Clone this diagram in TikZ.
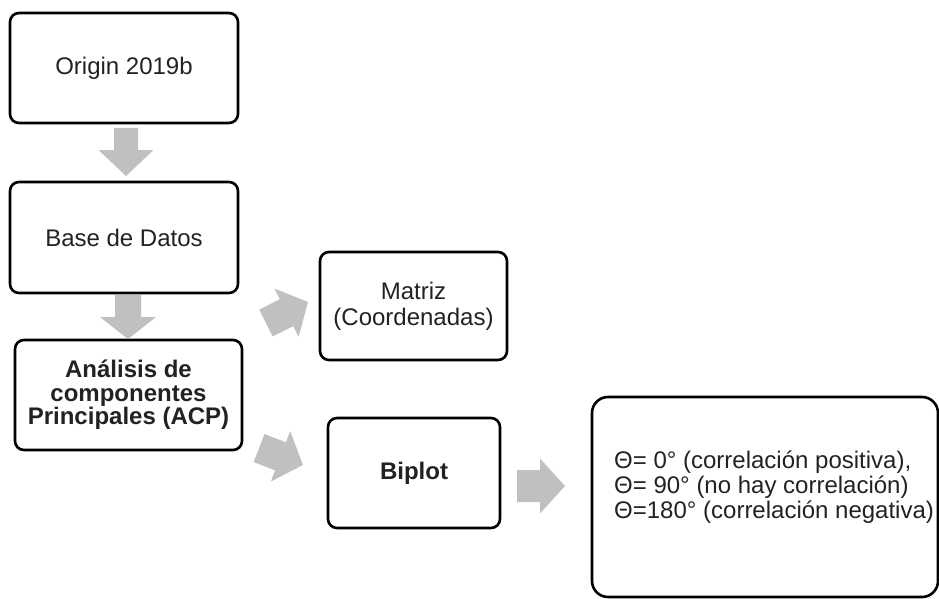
\documentclass[tikz,border=0pt]{standalone}
\usepackage{fontspec}
\setmainfont{Liberation Sans}
\begin{document}
\begin{tikzpicture}[x=1pt,y=-1pt,
  every node/.style={font=\fontsize{24}{23.5}\selectfont, text=txtgray},
  boxnode/.style={draw=black, line width=2.6pt, rounded corners=9pt, fill=white, inner sep=0pt, align=center},
  thetaline/.style={anchor=base west, inner sep=0pt, font=\fontsize{24}{25}\selectfont},
  pics/fatarrow/.style n args={4}{code={
    \fill[arrowgray] (-#1/2,-#2) -- (#1/2-#4,-#2) -- (#1/2-#4,-#3) -- (#1/2,0)
      -- (#1/2-#4,#3) -- (#1/2-#4,#2) -- (-#1/2,#2) -- cycle;}}]
\definecolor{arrowgray}{RGB}{192,192,192}
\definecolor{txtgray}{RGB}{34,34,34}
\useasboundingbox (0,0) rectangle (939,599);

% boxes
\node[boxnode, minimum width=228pt, minimum height=110pt] (origin) at (124,68) {Origin 2019b};
\node[boxnode, minimum width=228pt, minimum height=111pt] (base) at (124,237.5) {Base de Datos};
\node[boxnode, minimum width=227pt, minimum height=110pt, font=\fontsize{24}{23.5}\selectfont\bfseries] (acp) at (128.5,395)
  {Análisis de\\componentes\\Principales (ACP)};
\node[boxnode, minimum width=187pt, minimum height=108pt, font=\fontsize{24}{26}\selectfont] (matriz) at (413.5,306)
  {Matriz\\(Coordenadas)};
\node[boxnode, minimum width=172pt, minimum height=110pt, font=\fontsize{24}{23.5}\selectfont\bfseries] (biplot) at (414,473) {Biplot};
\draw[black, line width=2.6pt, rounded corners=16pt] (592,397) rectangle (938,597);
\node[thetaline] (theta1) at (614,468) {Θ= 0° (correlación positiva),};
\node[thetaline] (theta2) at (614,493) {Θ= 90° (no hay correlación)};
\node[thetaline] (theta3) at (614,518) {Θ=180° (correlación negativa)};

% block arrows
\pic[rotate=-90] at (126,152) {fatarrow={48}{12}{27.5}{26}};
\pic[rotate=-90] at (128,317) {fatarrow={44}{13}{28}{22}};
\pic[rotate=26.6] at (287,312.5) {fatarrow={47}{15}{27}{24}};
\pic[rotate=-21] at (281,456.5) {fatarrow={47}{15}{27}{24}};
\pic at (541,486) {fatarrow={48}{16}{27.5}{25}};
\end{tikzpicture}
\end{document}
